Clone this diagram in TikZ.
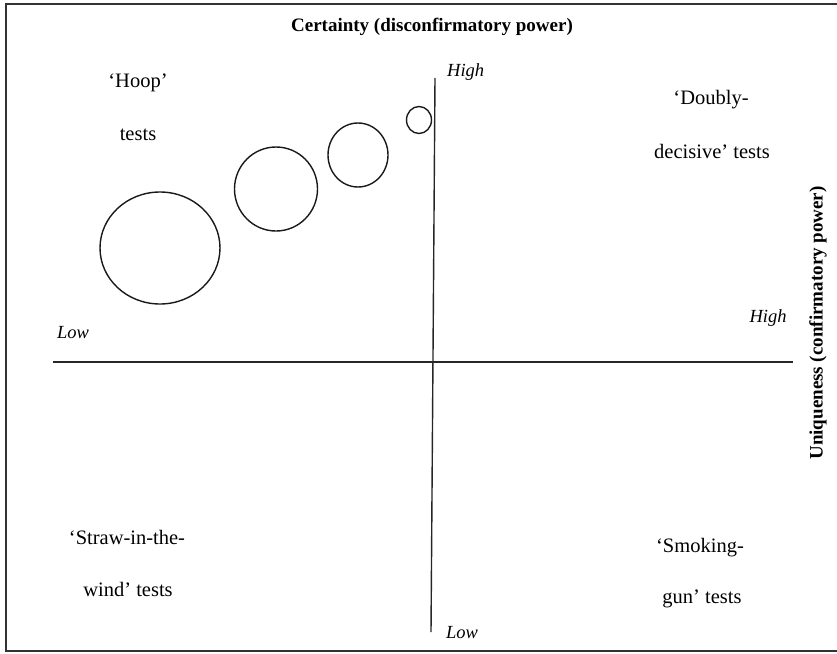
\documentclass[tikz,border=0pt]{standalone}
\usepackage{fontspec}
\setmainfont{Liberation Serif}
\usetikzlibrary{shapes.geometric}
\begin{document}
\begin{tikzpicture}[x=1pt,y=-1pt,
  lbl/.style={inner sep=0pt, font=\fontsize{20.5}{22}\selectfont},
  axlbl/.style={inner sep=0pt, font=\fontsize{18.5}{20}\selectfont\itshape},
  ttl/.style={inner sep=0pt, font=\fontsize{19}{21}\selectfont\bfseries},
  axis/.style={line width=1.4pt, black!85},
  ring/.style={draw, line width=1.4pt, ellipse, inner sep=0pt, black!90},
  frame/.style={line width=2pt, black!80}]
\useasboundingbox (0,0) rectangle (837,653);
\begin{scope}
\clip (0,0) rectangle (837,653);
\draw[frame] (900,651) -- (6,651) -- (6,4) -- (900,4);
\end{scope}
% axes
\coordinate (vtop) at (435,78);
\coordinate (vbot) at (431,632);
\coordinate (hl) at (53,362);
\coordinate (hr) at (793,362);
\draw[axis] (vtop) -- (vbot);
\draw[axis] (hl) -- (hr);
% circles
\node[ring, minimum width=120pt, minimum height=112pt] (c1) at (160,248) {};
\node[ring, minimum width=83pt, minimum height=84pt] (c2) at (276,189) {};
\node[ring, minimum width=60pt, minimum height=64pt] (c3) at (358,155) {};
\node[ring, minimum width=25pt, minimum height=27pt] (c4) at (419,120) {};
% titles
\node[ttl] (t1) at (432,27) {Certainty (disconfirmatory power)};
\node[ttl, rotate=90] (t2) at (818,323) {Uniqueness (confirmatory power)};
% axis labels
\node[axlbl, anchor=west] (hiT) at (447,72) {High};
\node[axlbl] (loL) at (73,333) {Low};
\node[axlbl] (hiR) at (768,318) {High};
\node[axlbl, anchor=west] (loB) at (446,633) {Low};
% quadrant labels
\node[lbl] (hoop1) at (138,83) {`Hoop'};
\node[lbl] (hoop2) at (138,135) {tests};
\node[lbl] (dd1) at (711,100) {`Doubly-};
\node[lbl] (dd2) at (712,151) {decisive' tests};
\node[lbl] (sw1) at (127,537) {`Straw-in-the-};
\node[lbl] (sw2) at (128,589) {wind' tests};
\node[lbl] (sg1) at (700,548) {`Smoking-};
\node[lbl] (sg2) at (702,599) {gun' tests};
\end{tikzpicture}
\end{document}
